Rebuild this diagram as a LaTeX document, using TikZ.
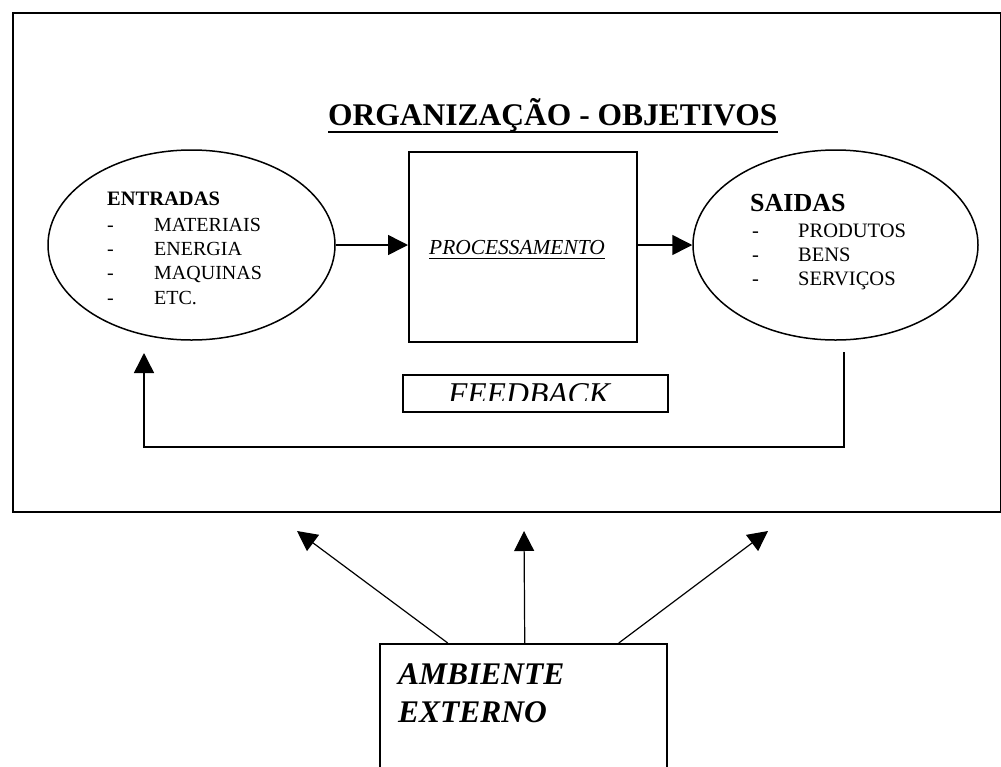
\documentclass[tikz,border=0pt]{standalone}
\usepackage{fontspec}
\setmainfont{Liberation Serif}
\usetikzlibrary{shapes.geometric,arrows.meta}

\tikzset{
	txt/.style={inner sep=0pt, anchor=base west},
	caixa/.style={draw, line width=1.5pt, inner sep=0pt, anchor=north west},
	flecha/.style={line width=1.5pt, -{Triangle[length=20pt,width=20pt]}},
}

\begin{document}
\begin{tikzpicture}[x=1pt,y=-1pt]
	\useasboundingbox (0,0) rectangle (1001,766);

	% organizacao
	\node[caixa, minimum width=988, minimum height=499] (org) at (12,12) {};
	\node[txt, font=\fontsize{31.5}{36}\selectfont\bfseries] (titulo) at (328,125) {ORGANIZAÇÃO - OBJETIVOS};
	\draw[line width=2.2pt] ([yshift=-7pt]titulo.base west) -- ([yshift=-7pt]titulo.base east);

	% entradas
	\node[draw, ellipse, line width=1.5pt, minimum width=287, minimum height=190] (entradas) at (191.5,245) {};
	\node[txt, font=\fontsize{20.5}{24}\selectfont\bfseries] (ent0) at (107,205) {ENTRADAS};
	\node[txt, font=\fontsize{20}{24}\selectfont] (ent1d) at (107,231) {-};
	\node[txt, font=\fontsize{20}{24}\selectfont] (ent1) at (154,231) {MATERIAIS};
	\node[txt, font=\fontsize{20}{24}\selectfont] (ent2d) at (107,255) {-};
	\node[txt, font=\fontsize{20}{24}\selectfont] (ent2) at (154,255) {ENERGIA};
	\node[txt, font=\fontsize{20}{24}\selectfont] (ent3d) at (107,279) {-};
	\node[txt, font=\fontsize{20}{24}\selectfont] (ent3) at (154,279) {MAQUINAS};
	\node[txt, font=\fontsize{20}{24}\selectfont] (ent4d) at (107,304) {-};
	\node[txt, font=\fontsize{20}{24}\selectfont] (ent4) at (154,304) {ETC.};

	% processamento
	\node[caixa, minimum width=228, minimum height=190] (proc) at (408,151) {};
	\node[inner sep=0pt, anchor=base, font=\fontsize{21.4}{24}\selectfont\itshape] (proctxt) at (517,254) {PROCESSAMENTO};
	\draw[line width=1pt] ([yshift=-4pt]proctxt.base west) -- ([yshift=-4pt]proctxt.base east);

	% saidas
	\node[draw, ellipse, line width=1.5pt, minimum width=285, minimum height=190] (saidas) at (835.5,245) {};
	\node[txt, font=\fontsize{26}{30}\selectfont\bfseries] (sai0) at (750,211) {SAIDAS};
	\node[txt, font=\fontsize{20.5}{24}\selectfont] (sai1d) at (752,237) {-};
	\node[txt, font=\fontsize{20.5}{24}\selectfont] (sai1) at (798,237) {PRODUTOS};
	\node[txt, font=\fontsize{20.5}{24}\selectfont] (sai2d) at (752,261) {-};
	\node[txt, font=\fontsize{20.5}{24}\selectfont] (sai2) at (798,261) {BENS};
	\node[txt, font=\fontsize{20.5}{24}\selectfont] (sai3d) at (752,285) {-};
	\node[txt, font=\fontsize{20.5}{24}\selectfont] (sai3) at (798,285) {SERVIÇOS};

	\draw[flecha] (entradas.east) -- (entradas.east -| proc.west);
	\draw[flecha] (saidas.west -| proc.east) -- (saidas.west);

	% feedback
	\node[caixa, minimum width=265, minimum height=37] (fb) at (402,374) {};
	\begin{scope}
		\clip (402,374) rectangle (667,400);
		\node[inner sep=0pt, anchor=base, font=\fontsize{31.7}{36}\selectfont\itshape] (fbtxt) at (529,404) {FEEDBACK};
	\end{scope}
	\coordinate (fbA) at (844,352);
	\coordinate (fbC) at (144,447);
	\coordinate (fbB) at (144,353);
	\draw[flecha] (fbA) |- (fbC) -- (fbB);

	% ambiente externo
	\node[caixa, minimum width=287, minimum height=140] (amb) at (379,643) {};
	\node[txt, font=\fontsize{31.5}{38}\selectfont\bfseries\itshape] (amb1) at (398,684) {AMBIENTE};
	\node[txt, font=\fontsize{31.5}{38}\selectfont\bfseries\itshape] (amb2) at (398,722) {EXTERNO};
	\coordinate (alvo1) at (297,531);
	\coordinate (alvo2) at (524,531);
	\coordinate (alvo3) at (768,531);
	\draw[flecha, line width=1.2pt] ([xshift=-75.5pt]amb.north) -- (alvo1);
	\draw[flecha, line width=1.2pt] ([xshift=1.5pt]amb.north) -- (alvo2);
	\draw[flecha, line width=1.2pt] ([xshift=95.5pt]amb.north) -- (alvo3);

\end{tikzpicture}
\end{document}
